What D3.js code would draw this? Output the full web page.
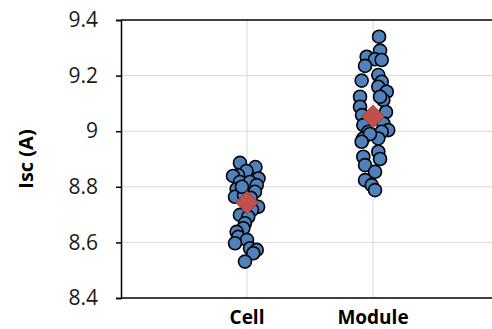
<!DOCTYPE html>
<html>
<head>
<meta charset="utf-8">
<script src="https://cdn.jsdelivr.net/npm/d3@7"></script>
<style>
  body { margin: 0; background: #fff; }
  svg { display: block; font-family: "Open Sans", "Liberation Sans", sans-serif; }
</style>
</head>
<body>
<svg id="chart" width="492" height="329"></svg>
<script>
// categories sit at x = 1 and x = 2, points carry their own jitter
const categories = ['Cell', 'Module'];
const categoryX = [1, 2];

const cellX = [0.944, 1.067, 0.996, 0.929, 0.889, 1.091, 0.944, 1.024, 1.077, 0.918,
  1.063, 0.905, 0.976, 1.088, 1.040, 0.944, 1.010, 0.984, 0.971, 0.918,
  0.931, 1.000, 0.905, 1.024, 1.077, 1.050, 0.984, 1.030, 0.960];
const cellIsc = [8.886, 8.871, 8.857, 8.842, 8.839, 8.830, 8.817, 8.817, 8.806, 8.792,
  8.782, 8.764, 8.770, 8.728, 8.717, 8.699, 8.692, 8.669, 8.651, 8.638,
  8.620, 8.609, 8.597, 8.579, 8.573, 8.561, 8.531, 8.760, 8.800];

const moduleX = [2.048, 2.056, 1.950, 2.016, 2.069, 1.937, 2.042, 2.069, 1.910, 2.042,
  2.109, 1.897, 2.082, 1.897, 2.056, 2.103, 1.913, 2.082, 1.923, 2.121,
  1.963, 2.069, 1.923, 2.042, 1.976, 1.910, 2.042, 1.923, 2.056, 1.937,
  2.016, 1.937, 1.990, 2.016];
const moduleIsc = [9.340, 9.290, 9.268, 9.259, 9.256, 9.235, 9.202, 9.178, 9.182, 9.160,
  9.142, 9.124, 9.112, 9.088, 9.124, 9.069, 9.058, 9.028, 9.022, 9.004,
  8.998, 8.998, 8.974, 8.974, 8.990, 8.962, 8.926, 8.908, 8.900, 8.878,
  8.854, 8.824, 8.806, 8.788];

const meanX = [1, 2];
const meanIsc = [8.744, 9.053];

const yTicks = [8.4, 8.6, 8.8, 9.0, 9.2, 9.4];
const yTickLabels = ['8.4', '8.6', '8.8', '9', '9.2', '9.4'];

const svg = d3.select('#chart');
const W = 492, H = 329;
const m = {left: 121, top: 20, bottom: 31};

const x = d3.scaleLinear().domain([0, 3]).range([m.left, m.left + 378]);
const y = d3.scaleLinear().domain([8.4, 9.4]).range([H - m.bottom, m.top]);

// grid
const grid = svg.append('g');
grid.selectAll('line.h')
  .data(yTicks.slice(1, -1))
  .join('line')
  .attr('x1', m.left).attr('x2', W)
  .attr('y1', d => y(d)).attr('y2', d => y(d))
  .attr('stroke', '#d9d9d9').attr('stroke-width', 1);
grid.selectAll('line.v')
  .data(categoryX)
  .join('line')
  .attr('x1', d => x(d)).attr('x2', d => x(d))
  .attr('y1', y(9.4)).attr('y2', y(8.4))
  .attr('stroke', '#d9d9d9').attr('stroke-width', 1);

// frame top
svg.append('line')
  .attr('x1', m.left).attr('x2', W)
  .attr('y1', y(9.4)).attr('y2', y(9.4))
  .attr('stroke', '#000').attr('stroke-width', 1.5);
// bottom axis line
svg.append('line')
  .attr('x1', m.left).attr('x2', W)
  .attr('y1', y(8.4)).attr('y2', y(8.4))
  .attr('stroke', '#000').attr('stroke-width', 1.5);

// y axis
const yAxis = svg.append('g')
  .attr('transform', `translate(${m.left},0)`)
  .call(d3.axisLeft(y).tickValues(yTicks).tickSize(5).tickPadding(18)
    .tickFormat((d, i) => yTickLabels[i]));
yAxis.select('.domain').attr('stroke', '#000').attr('stroke-width', 1.5);
yAxis.selectAll('.tick line').attr('stroke', '#000').attr('stroke-width', 1.5);
yAxis.selectAll('.tick text')
  .attr('font-size', 21).attr('fill', '#1a1a1a')
  .attr('font-family', '"Open Sans", sans-serif');

// category labels
svg.selectAll('text.cat')
  .data(categories)
  .join('text')
  .attr('class', 'cat')
  .attr('x', (d, i) => x(categoryX[i]))
  .attr('y', 324)
  .attr('text-anchor', 'middle')
  .attr('font-size', 19).attr('font-weight', 'bold').attr('fill', '#000')
  .text(d => d);

// y title
svg.append('text')
  .attr('transform', `translate(33,${(y(9.4) + y(8.4)) / 2}) rotate(-90)`)
  .attr('text-anchor', 'middle')
  .attr('font-size', 20).attr('font-weight', 'bold').attr('fill', '#000')
  .text('Isc (A)');

// points
const pts = cellX.map((d, i) => ({x: d, v: cellIsc[i]}))
  .concat(moduleX.map((d, i) => ({x: d, v: moduleIsc[i]})));

svg.append('g').selectAll('circle')
  .data(pts)
  .join('circle')
  .attr('cx', d => x(d.x))
  .attr('cy', d => y(d.v))
  .attr('r', 6.5)
  .attr('fill', '#4f81bd')
  .attr('stroke', '#000')
  .attr('stroke-width', 1.6);

// means
const diamond = d3.symbol().type(d3.symbolDiamond2).size(340);
svg.append('g').selectAll('path')
  .data(meanX.map((d, i) => ({x: d, v: meanIsc[i]})))
  .join('path')
  .attr('transform', d => `translate(${x(d.x)},${y(d.v)})`)
  .attr('d', diamond)
  .attr('fill', '#c0504d')
  .attr('stroke', '#8c3836')
  .attr('stroke-width', 0.8);
</script>
</body>
</html>
